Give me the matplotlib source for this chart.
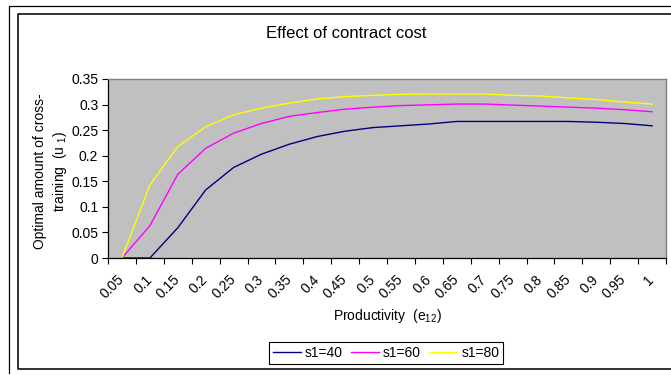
import numpy as np
import matplotlib
matplotlib.use('Agg')
import matplotlib.pyplot as plt
from matplotlib.lines import Line2D

plt.rcParams['font.family'] = ['Liberation Sans', 'DejaVu Sans']
plt.rcParams['mathtext.fontset'] = 'custom'
plt.rcParams['mathtext.rm'] = 'Liberation Sans'
plt.rcParams['mathtext.it'] = 'Liberation Sans'

# productivity categories (e12)
categories = ['0.05', '0.1', '0.15', '0.2', '0.25', '0.3', '0.35', '0.4', '0.45', '0.5',
              '0.55', '0.6', '0.65', '0.7', '0.75', '0.8', '0.85', '0.9', '0.95', '1']

s40 = [0.0, 0.0, 0.059, 0.133, 0.177, 0.203, 0.2225, 0.2375, 0.248, 0.255,
       0.2585, 0.262, 0.267, 0.267, 0.267, 0.267, 0.267, 0.2655, 0.263, 0.2585]
s60 = [0.0, 0.063, 0.1635, 0.2145, 0.244, 0.263, 0.277, 0.2845, 0.291, 0.295,
       0.298, 0.2995, 0.301, 0.301, 0.299, 0.297, 0.295, 0.293, 0.290, 0.286]
s80 = [0.0, 0.1425, 0.218, 0.2565, 0.280, 0.293, 0.303, 0.311, 0.3155, 0.318,
       0.320, 0.3207, 0.3207, 0.3207, 0.318, 0.3168, 0.313, 0.310, 0.305, 0.301]

series = [('s1=40', s40, '#000080'), ('s1=60', s60, '#FF00FF'), ('s1=80', s80, '#FFFF00')]

W, H = 671, 375
fig = plt.figure(figsize=(W / 100, H / 100), dpi=100)

# chart frames (image is a crop of a larger sheet)
def px_line(xs, ys, **kw):
    fig.add_artist(Line2D([x / W for x in xs], [1 - y / H for y in ys],
                          transform=fig.transFigure, **kw))

px_line([8.5, 8.5, W + 5], [373, 5.5, 5.5], color='black', lw=0.9)
px_line([W + 5, 17.5, 17.5, W + 5], [14, 14, 368.5, 368.5], color='#222222', lw=1.3)

ax = fig.add_axes([108 / W, 1 - 258 / H, (666 - 108) / W, (258 - 79) / H])
ax.set_facecolor('#C0C0C0')

x = np.arange(len(categories))
for name, vals, col in series:
    ax.plot(x, vals, color=col, lw=1.0, label=name)

ax.set_xlim(-0.5, len(categories) - 0.5)
ax.set_ylim(0, 0.35)
ax.set_yticks(np.arange(0, 0.351, 0.05))
ax.set_yticklabels(['0', '0.05', '0.1', '0.15', '0.2', '0.25', '0.3', '0.35'])

ax.set_xticks(x)
ax.set_xticklabels(categories, rotation=45, ha='right', va='center',
                   rotation_mode='anchor')
ax.set_xticks(np.arange(-0.5, len(categories)), minor=True)
ax.tick_params(axis='x', which='major', length=0, pad=14, labelsize=10)
ax.tick_params(axis='x', which='minor', length=4, width=0.8, direction='out')
ax.tick_params(axis='y', length=4, width=0.8, direction='out', pad=3, labelsize=10)

for s in ['top', 'right']:
    ax.spines[s].set_color('#808080')
    ax.spines[s].set_linewidth(1.0)
for s in ['left', 'bottom']:
    ax.spines[s].set_color('black')
    ax.spines[s].set_linewidth(0.9)

fig.text(346 / W, 1 - 33 / H, 'Effect of contract cost', ha='center', va='center', fontsize=12)
fig.text(387 / W, 1 - 316 / H, r'Productivity  (e$_{\mathrm{12}}$)', ha='center', va='center',
         fontsize=10)
fig.text(51 / W, 1 - 171 / H, 'Optimal amount of cross-\ntraining  (u $_{\\mathrm{1}}$)',
         ha='center', va='center', rotation=90, multialignment='center', fontsize=10,
         linespacing=1.3)

leg = fig.legend(loc='center', bbox_to_anchor=(386 / W, 1 - 353 / H), ncol=3,
                 fontsize=10, frameon=True, fancybox=False, framealpha=1,
                 edgecolor='black', handlelength=2.0, handletextpad=0.3,
                 columnspacing=0.6, borderpad=0.3)
leg.get_frame().set_linewidth(0.8)

fig.savefig('out.png', dpi=100)
